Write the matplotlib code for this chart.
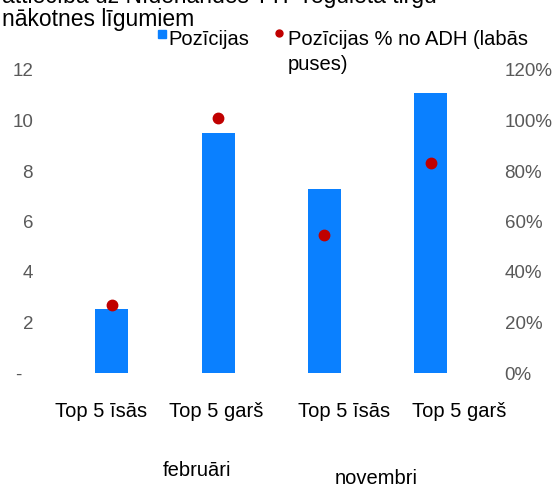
import numpy as np
import matplotlib.pyplot as plt
import matplotlib.transforms as mtransforms

# ---------------- DATA ----------------
categories = ["Top 5 īsās", "Top 5 garš", "Top 5 īsās", "Top 5 garš"]
groups = ["februāri", "novembri"]
positions = [2.52, 9.49, 7.27, 11.1]          # left axis
pct_of_adh = [26.9, 101.1, 54.5, 83.0]        # right axis, %
left_ticks = [0, 2, 4, 6, 8, 10, 12]
left_ticklabels = ["-  ", "2", "4", "6", "8", "10", "12"]
right_ticks = [0, 20, 40, 60, 80, 100, 120]
title_lines = ["attiecībā uz Nīderlandes TTF regulētā tirgū", "nākotnes līgumiem"]
legend_labels = ["Pozīcijas", "Pozīcijas % no ADH (labās", "puses)"]
# --------------------------------------

plt.rcParams["font.family"] = ["Liberation Sans", "DejaVu Sans"]

W, H = 553, 486
fig = plt.figure(figsize=(W / 100, H / 100), dpi=100)

# axes box in pixels (top-origin)
x0, x1 = 45, 490
y_top, y_bot = 70, 373
ax = fig.add_axes([x0 / W, 1 - y_bot / H, (x1 - x0) / W, (y_bot - y_top) / H])
ax2 = ax.twinx()

x = np.arange(len(categories))
ax.bar(x, positions, width=0.31, color="#0A80FF", zorder=2)
ax2.plot(x, pct_of_adh, "o", color="#C00000", markersize=7.5, zorder=3)

ax.set_xlim(-0.63, 3.56)
ax.set_ylim(0, 12)
ax2.set_ylim(0, 120)

grey = "#595959"
ax.set_yticks(left_ticks)
ax.set_yticklabels(left_ticklabels)
ax2.set_yticks(right_ticks)
ax2.set_yticklabels([f"{t}%" for t in right_ticks])
ax.tick_params(axis="y", length=0, pad=8.6, labelsize=13.5, labelcolor=grey)
ax2.tick_params(axis="y", length=0, pad=10.5, labelsize=13.5, labelcolor=grey)
ax.set_xticks([])

for a in (ax, ax2):
    for s in a.spines.values():
        s.set_visible(False)

# category and group labels under the bars
trans = mtransforms.blended_transform_factory(ax.transData, fig.transFigure)
label_x = [-0.10, 0.98, 2.19, 3.27]
for lx, txt in zip(label_x, categories):
    ax.text(lx, 1 - 411 / H, txt, transform=trans, ha="center", va="center",
            fontsize=14.5, clip_on=False)
ax.text(0.80, 1 - 470 / H, groups[0], transform=trans, ha="center", va="center",
        fontsize=14.5, clip_on=False)
ax.text(2.49, 1 - 478 / H, groups[1], transform=trans, ha="center", va="center",
        fontsize=14.5, clip_on=False)

# title (first line cut off at the top edge)
fig.text(2 / W, 1 - 3 / H, title_lines[0], ha="left", va="baseline", fontsize=16.5)
fig.text(2 / W, 1 - 26 / H, title_lines[1], ha="left", va="baseline", fontsize=16.5)

# legend
fig.lines.append(plt.Line2D([162 / W], [1 - 34 / H], marker="s", markersize=6,
                            color="#0A80FF", linestyle="none", transform=fig.transFigure))
fig.text(168 / W, 1 - 45 / H, legend_labels[0], ha="left", va="baseline", fontsize=14.5)
fig.lines.append(plt.Line2D([279 / W], [1 - 33 / H], marker="o", markersize=5,
                            color="#C00000", linestyle="none", transform=fig.transFigure))
fig.text(288 / W, 1 - 45 / H, legend_labels[1], ha="left", va="baseline", fontsize=14.5)
fig.text(288 / W, 1 - 70 / H, legend_labels[2], ha="left", va="baseline", fontsize=14.5)

fig.savefig("out.png", dpi=100)
